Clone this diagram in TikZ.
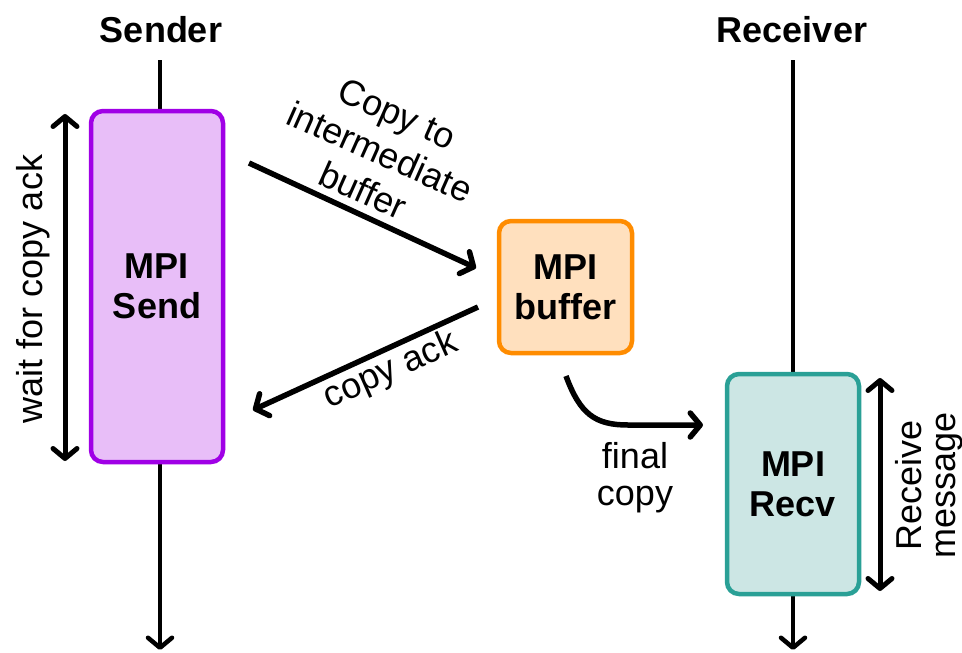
\documentclass[tikz,border=0pt]{standalone}
\usepackage{fontspec}
\setmainfont{Liberation Sans}
\usetikzlibrary{arrows.meta}
\definecolor{sendborder}{RGB}{160,0,230}
\definecolor{sendfill}{RGB}{232,190,248}
\definecolor{bufborder}{RGB}{255,140,0}
\definecolor{buffill}{RGB}{255,224,190}
\definecolor{recvborder}{RGB}{42,160,150}
\definecolor{recvfill}{RGB}{204,230,228}
\tikzset{
  barb/.tip={Straight Barb[length=10pt,width=24pt,line cap=round,line join=round]},
  tip/.style={-barb},
  dtip/.style={barb-barb},
  life/.style={line width=4.5pt,tip},
  conn/.style={line width=5.5pt,tip},
  span/.style={line width=5pt,dtip},
  box/.style={rounded corners=12pt,line width=4.5pt,align=center,inner sep=0pt,
    font=\fontsize{36}{40}\selectfont\bfseries},
  head/.style={font=\fontsize{36}{40}\selectfont\bfseries},
  lbl/.style={align=center,font=\fontsize{36}{42}\selectfont,inner sep=0pt},
}
\begin{document}
\begin{tikzpicture}[x=1pt,y=-1pt]
\useasboundingbox (0,0) rectangle (962,653);
% lifelines
\coordinate (sTop) at (160,60);
\coordinate (sEnd) at (160,650);
\coordinate (rTop) at (793,60);
\coordinate (rEnd) at (793,650);
\draw[life] (sTop) -- (sEnd);
\draw[life] (rTop) -- (rEnd);
% headers
\node[head] (sender) at (161,30) {Sender};
\node[head] (receiver) at (792,30) {Receiver};
% boxes
\node[box,draw=sendborder,fill=sendfill,minimum width=132pt,minimum height=351pt] (send) at (157,286.5) {MPI\\Send};
\node[box,draw=bufborder,fill=buffill,minimum width=133pt,minimum height=132pt] (buf) at (565.5,287) {MPI\\buffer};
\node[box,draw=recvborder,fill=recvfill,minimum width=132pt,minimum height=220pt] (recv) at (793,484) {MPI\\Recv};
% span arrows
\coordinate (w1) at (65,114);
\coordinate (w2) at (65,461);
\draw[span] (w1) -- (w2);
\node[lbl,rotate=90] (waitlbl) at (33,289) {wait for copy ack};
\coordinate (m1) at (880,378);
\coordinate (m2) at (880,591);
\draw[span] (m1) -- (m2);
\node[lbl,rotate=90,font=\fontsize{36}{34}\selectfont] (msglbl) at (929,485) {Receive\\message};
% messages
\coordinate (c1) at (249,163);
\coordinate (c2) at (476,268);
\draw[conn] (c1) -- (c2);
\node[lbl,rotate=-24] (copylbl) at (380,152) {Copy to\\intermediate\\buffer};
\coordinate (a1) at (478,307);
\coordinate (a2) at (253,410);
\draw[conn] (a1) -- (a2);
\node[lbl,rotate=24] (acklbl) at (391,371) {copy ack};
\coordinate (f1) at (566,376);
\coordinate (f2) at (703,425);
\draw[conn] (f1) .. controls (580,414) and (595,425) .. (628,425) -- (f2);
\node[lbl,font=\fontsize{36}{37}\selectfont] (finallbl) at (635,478) {final\\copy};
\end{tikzpicture}
\end{document}
